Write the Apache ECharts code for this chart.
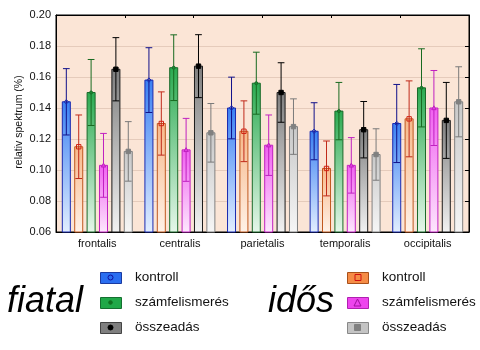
<!DOCTYPE html>
<html><head><meta charset="utf-8">
<script src="https://cdn.jsdelivr.net/npm/echarts@6/dist/echarts.min.js"></script>
<style>html,body{margin:0;padding:0;background:#fff}#c{width:480px;height:350px}</style>
</head><body><div id="c"></div>
<script>
const categories = ['frontalis','centralis','parietalis','temporalis','occipitalis'];
const yTicks = [0.06,0.08,0.10,0.12,0.14,0.16,0.18,0.20];
const seriesNames = ['fiatal kontroll','idős kontroll','fiatal számfelismerés','idős számfelismerés','fiatal összeadás','idős összeadás'];
const fiatalKontroll = [0.144, 0.158, 0.140, 0.125, 0.130];
const fiatalKontrollErr = [0.0214, 0.0209, 0.0199, 0.0184, 0.0252];
const idosKontroll = [0.115, 0.130, 0.125, 0.101, 0.133];
const idosKontrollErr = [0.0205, 0.0204, 0.0196, 0.0177, 0.0245];
const fiatalSzam = [0.150, 0.166, 0.156, 0.138, 0.153];
const fiatalSzamErr = [0.0213, 0.0212, 0.0200, 0.0185, 0.0252];
const idosSzam = [0.103, 0.113, 0.116, 0.103, 0.140];
const idosSzamErr = [0.0206, 0.0203, 0.0195, 0.0179, 0.0242];
const fiatalOssz = [0.165, 0.167, 0.150, 0.126, 0.132];
const fiatalOsszErr = [0.0204, 0.0203, 0.0192, 0.0182, 0.0245];
const idosOssz = [0.112, 0.124, 0.128, 0.110, 0.144];
const idosOsszErr = [0.0192, 0.0189, 0.0179, 0.0166, 0.0226];

const means = [fiatalKontroll, idosKontroll, fiatalSzam, idosSzam, fiatalOssz, idosOssz];
const errs = [fiatalKontrollErr, idosKontrollErr, fiatalSzamErr, idosSzamErr, fiatalOsszErr, idosOsszErr];
const styles = [
  {top:'#3a80f2', bot:'#e2eeff', border:'#1a2ab0', err:'#10108a', marker:'diamond', mfill:'none', mstroke:'#1a2ab0'},
  {top:'#f7b88a', bot:'#fff2e8', border:'#c0581e', err:'#c02a1a', marker:'square', mfill:'none', mstroke:'#d02010'},
  {top:'#2aaa50', bot:'#e6f7ea', border:'#1a6a2a', err:'#186a20', marker:'circle', mfill:'#1a8a30', mstroke:'#1a6a2a'},
  {top:'#f060f0', bot:'#fde8fd', border:'#c020c0', err:'#c020c0', marker:'triangle', mfill:'#e040e0', mstroke:'#c020c0'},
  {top:'#7e7e7e', bot:'#f2f2f2', border:'#1a1a1a', err:'#000000', marker:'square', mfill:'#000', mstroke:'#000'},
  {top:'#c8c8c8', bot:'#f6f6f6', border:'#808080', err:'#7a7a7a', marker:'square', mfill:'#808080', mstroke:'#808080'}
];

function markerShape(type, cx, cy, st){
  const r = 2.2;
  const s = {fill: st.mfill === 'none' ? 'rgba(0,0,0,0)' : st.mfill, stroke: st.mstroke, lineWidth: 1};
  if (type === 'circle') return {type:'circle', shape:{cx:cx, cy:cy, r:1.5}, style:s};
  if (type === 'square') return {type:'rect', shape:{x:cx-r, y:cy-r, width:2*r, height:2*r}, style:s};
  if (type === 'diamond') return {type:'polygon', shape:{points:[[cx,cy-r],[cx+r,cy],[cx,cy+r],[cx-r,cy]]}, style:s};
  return {type:'polygon', shape:{points:[[cx,cy-r],[cx+r,cy+r-0.5],[cx-r,cy+r-0.5]]}, style:s};
}

const series = means.map((arr, si) => ({
  type: 'custom',
  name: seriesNames[si],
  xAxisIndex: 0, yAxisIndex: 0,
  data: arr.map((v, ci) => [ci, v, errs[si][ci]]),
  encode: {x: 0, y: 1},
  renderItem: function(params, api){
    const ci = api.value(0), m = api.value(1), e = api.value(2);
    const catW = api.size([1, 0])[0];
    const bw = catW * 0.097;
    const step = catW * 0.15;
    const c = api.coord([ci, m]);
    const xc = c[0] - 2.5 * step + si * step;
    const yTop = c[1];
    const yBot = api.coord([ci, 0.06])[1];
    const yHi = api.coord([ci, m + e])[1];
    const yLo = api.coord([ci, m - e])[1];
    const st = styles[si];
    const cap = bw * 0.42;
    return {type:'group', children:[
      {type:'rect', shape:{x:xc-bw/2, y:yTop, width:bw, height:yBot-yTop},
        style:{fill:new echarts.graphic.LinearGradient(0,0,0,1,[{offset:0,color:st.top},{offset:1,color:st.bot}]), stroke:st.border, lineWidth:1}},
      {type:'line', shape:{x1:xc, y1:yHi, x2:xc, y2:yLo}, style:{stroke:st.err, lineWidth:1}},
      {type:'line', shape:{x1:xc-cap, y1:yHi, x2:xc+cap, y2:yHi}, style:{stroke:st.err, lineWidth:1}},
      {type:'line', shape:{x1:xc-cap, y1:yLo, x2:xc+cap, y2:yLo}, style:{stroke:st.err, lineWidth:1}},
      markerShape(st.marker, xc, yTop, st)
    ]};
  }
}));

const font = 'Liberation Sans, Arial, sans-serif';
const legendG = [];
function legendItem(x, y, fill, border, label, mk){
  legendG.push({type:'rect', left:x, top:y, shape:{width:21, height:11}, style:{fill:fill, stroke:border, lineWidth:1}});
  legendG.push(mk);
  legendG.push({type:'text', left:x+35, top:y-2, style:{text:label, fill:'#111', font:'13.5px ' + font}});
}
legendItem(100, 272, '#2a6ef0', '#1a3aa0', 'kontroll', {type:'circle', shape:{cx:110.5, cy:277.5, r:2.5}, style:{fill:'none', stroke:'#1010a0', lineWidth:1}});
legendItem(100, 297, '#20a848', '#157030', 'számfelismerés', {type:'circle', shape:{cx:110.5, cy:302.5, r:1.8}, style:{fill:'#107020', stroke:'#107020'}});
legendItem(100, 322, '#7f7f7f', '#444', 'összeadás', {type:'circle', shape:{cx:110.5, cy:327.5, r:2.5}, style:{fill:'#000', stroke:'#000'}});
legendItem(347, 272, '#f58c46', '#a8501a', 'kontroll', {type:'rect', shape:{x:355, y:274.5, width:6, height:6}, style:{fill:'none', stroke:'#d01010', lineWidth:1}});
legendItem(347, 297, '#ee44ee', '#b020b0', 'számfelismerés', {type:'polygon', shape:{points:[[357.5,299],[361,306],[354,306]]}, style:{fill:'none', stroke:'#a010a0', lineWidth:1}});
legendItem(347, 322, '#c4c4c4', '#888', 'összeadás', {type:'rect', shape:{x:354.5, y:324.5, width:6, height:6}, style:{fill:'#808080', stroke:'#808080'}});
legendG.push({type:'text', left:7, top:284, style:{text:'fiatal', fill:'#000', font:'italic 36px ' + font}});
legendG.push({type:'text', left:268, top:284, style:{text:'idős', fill:'#000', font:'italic 36px ' + font}});
legendG.push({type:'text', x:19, y:122, rotation:Math.PI/2,
  style:{text:'relativ spektrum (%)', fill:'#111', font:'10.5px ' + font, textAlign:'center', textVerticalAlign:'middle'}});

const chart = echarts.init(document.getElementById('c'), null, {renderer:'canvas'});
chart.setOption({
  animation: false,
  backgroundColor: '#ffffff',
  textStyle: {fontFamily: font},
  grid: {left:56, right:11, top:15, bottom:118, show:true, backgroundColor:'#fbe5d6', borderColor:'#000', borderWidth:1},
  xAxis: [
    {type:'category', data:categories, position:'bottom',
      axisLine:{lineStyle:{color:'#000'}},
      axisTick:{inside:true, alignWithLabel:true, length:3, lineStyle:{color:'#000'}},
      axisLabel:{color:'#111', fontSize:11, margin:6}},
    {type:'value', min:0, max:6, interval:1, position:'top',
      axisLine:{show:true, lineStyle:{color:'#000'}},
      axisTick:{inside:true, length:3, lineStyle:{color:'#000'}},
      axisLabel:{show:false}, splitLine:{show:false}}
  ],
  yAxis: [
    {type:'value', min:0.06, max:0.20, interval:0.02,
      axisLine:{show:true, lineStyle:{color:'#000'}},
      axisTick:{show:false},
      axisLabel:{color:'#111', fontSize:11, margin:5, formatter: v => v.toFixed(2)},
      splitLine:{show:true, lineStyle:{color:'#e5cbbb', width:1}}},
    {type:'value', min:0.06, max:0.20, interval:0.02, position:'right',
      axisLine:{show:true, lineStyle:{color:'#000'}},
      axisTick:{show:true, inside:true, length:4, lineStyle:{color:'#000'}},
      axisLabel:{show:false}, splitLine:{show:false}}
  ],
  series: series,
  graphic: legendG
});
</script>
</body></html>
